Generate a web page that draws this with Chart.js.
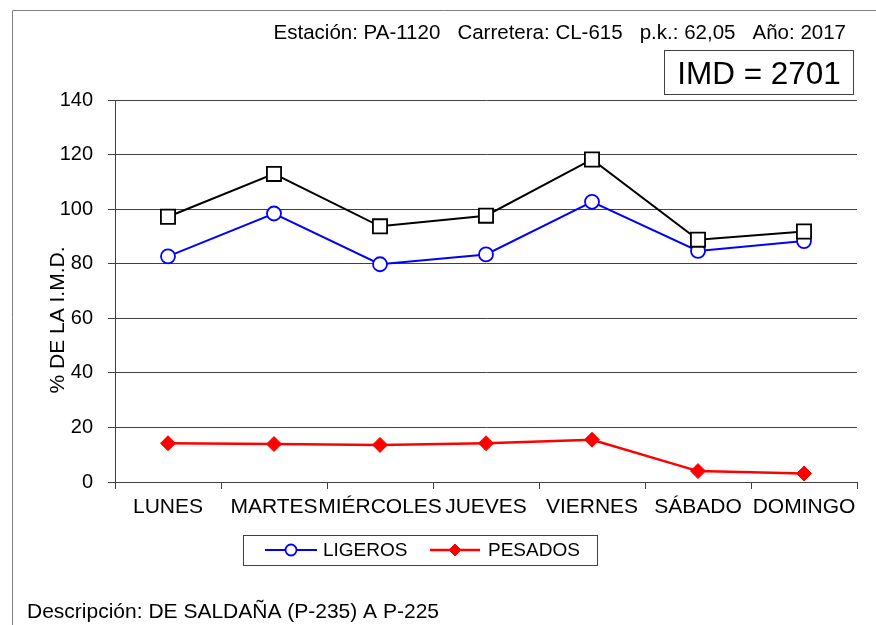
<!DOCTYPE html>
<html lang="es">
<head>
<meta charset="utf-8">
<title>Estación PA-1120 - Distribución semanal</title>
<script src="https://cdn.jsdelivr.net/npm/chart.js@4/dist/chart.umd.min.js"></script>
<style>
  html, body { margin: 0; padding: 0; background: #fff; }
  #wrap { width: 876px; height: 625px; }
</style>
</head>
<body>
<div id="wrap"><canvas id="grafico" width="876" height="625"></canvas></div>
<script>
// Días de la semana (categorías del eje X)
const dias = ['LUNES', 'MARTES', 'MIÉRCOLES', 'JUEVES', 'VIERNES', 'SÁBADO', 'DOMINGO'];
// % de la IMD por día
const totales = [97.2, 112.9, 93.7, 97.6, 118.2, 88.8, 91.8];
const ligeros = [82.7, 98.4, 79.8, 83.4, 102.7, 84.7, 88.3];
const pesados = [14.2, 13.9, 13.6, 14.2, 15.5, 4.0, 3.1];
// Marcas del eje Y
const marcasY = [0, 20, 40, 60, 80, 100, 120, 140];

// Textos de cabecera y pie
const cabecera = 'Estación: PA-1120   Carretera: CL-615   p.k.: 62,05   Año: 2017';
const imd = 'IMD = 2701';
const descripcion = 'Descripción: DE SALDAÑA (P-235) A P-225';
const tituloY = '% DE LA I.M.D.';

const FUENTE = '"Liberation Sans", Arial, Helvetica, sans-serif';

// Rótulos, recuadros y leyenda dibujados sobre el lienzo
const decoracion = {
  id: 'decoracion',
  afterDraw(chart) {
    const ctx = chart.ctx;
    ctx.save();

    // Marco exterior (lados superior e izquierdo)
    ctx.strokeStyle = '#808080';
    ctx.lineWidth = 1;
    ctx.beginPath();
    ctx.moveTo(12.5, 625);
    ctx.lineTo(12.5, 10.5);
    ctx.lineTo(876, 10.5);
    ctx.stroke();

    // Cabecera
    ctx.fillStyle = '#000';
    ctx.font = '20.5px ' + FUENTE;
    ctx.textAlign = 'right';
    ctx.textBaseline = 'alphabetic';
    ctx.fillText(cabecera, 846, 39);

    // Recuadro IMD
    ctx.strokeStyle = '#404040';
    ctx.strokeRect(664.5, 50.5, 189, 44);
    ctx.font = '31.5px ' + FUENTE;
    ctx.textAlign = 'center';
    ctx.fillText(imd, 759, 84);

    // Título del eje Y
    ctx.save();
    ctx.translate(64, 320);
    ctx.rotate(-Math.PI / 2);
    ctx.font = '21px ' + FUENTE;
    ctx.textAlign = 'center';
    ctx.textBaseline = 'alphabetic';
    ctx.fillText(tituloY, 0, 0);
    ctx.restore();

    // Leyenda
    ctx.strokeStyle = '#404040';
    ctx.lineWidth = 1;
    ctx.strokeRect(243.5, 535.5, 354, 30);
    const items = [
      { ds: chart.data.datasets[1], x0: 265, x1: 317, tx: 323 },
      { ds: chart.data.datasets[2], x0: 430, x1: 480, tx: 488 }
    ];
    const yl = 550;
    items.forEach(it => {
      ctx.strokeStyle = it.ds.borderColor;
      ctx.lineWidth = it.ds.borderWidth;
      ctx.beginPath();
      ctx.moveTo(it.x0, yl);
      ctx.lineTo(it.x1, yl);
      ctx.stroke();
      ctx.fillStyle = it.ds.pointBackgroundColor;
      ctx.strokeStyle = it.ds.pointBorderColor;
      ctx.lineWidth = it.ds.pointBorderWidth;
      Chart.helpers.drawPoint(ctx, {
        pointStyle: it.ds.pointStyle,
        radius: it.ds.pointStyle === 'circle' ? 5.5 : 6,
        borderWidth: it.ds.pointBorderWidth,
        rotation: 0
      }, (it.x0 + it.x1) / 2, yl);
      ctx.fillStyle = '#000';
      ctx.font = '19px ' + FUENTE;
      ctx.textAlign = 'left';
      ctx.textBaseline = 'middle';
      ctx.fillText(it.ds.label, it.tx, yl + 1);
    });

    // Descripción
    ctx.fillStyle = '#000';
    ctx.font = '21px ' + FUENTE;
    ctx.textAlign = 'left';
    ctx.textBaseline = 'alphabetic';
    ctx.fillText(descripcion, 27, 618);

    ctx.restore();
  }
};

new Chart(document.getElementById('grafico'), {
  type: 'line',
  data: {
    labels: dias,
    datasets: [
      {
        label: 'TOTAL',
        data: totales,
        borderColor: '#000000',
        borderWidth: 2,
        pointStyle: 'rect',
        pointRadius: 10,
        pointBackgroundColor: '#ffffff',
        pointBorderColor: '#000000',
        pointBorderWidth: 1.8,
        tension: 0,
        order: 0
      },
      {
        label: 'LIGEROS',
        data: ligeros,
        borderColor: '#0000FF',
        borderWidth: 2,
        pointStyle: 'circle',
        pointRadius: 7,
        pointBackgroundColor: '#ffffff',
        pointBorderColor: '#0000FF',
        pointBorderWidth: 1.8,
        tension: 0,
        order: 1
      },
      {
        label: 'PESADOS',
        data: pesados,
        borderColor: '#FF0000',
        borderWidth: 2.5,
        pointStyle: 'rectRot',
        pointRadius: 7.5,
        pointBackgroundColor: '#FF0000',
        pointBorderColor: '#FF0000',
        pointBorderWidth: 1,
        tension: 0,
        order: 2
      }
    ]
  },
  options: {
    responsive: false,
    animation: false,
    devicePixelRatio: 1,
    layout: { padding: { top: 100, right: 19, bottom: 103, left: 0 } },
    plugins: {
      legend: { display: false },
      title: { display: false },
      tooltip: { enabled: false }
    },
    scales: {
      x: {
        offset: true,
        grid: {
          offset: true,
          drawOnChartArea: false,
          drawTicks: true,
          tickLength: 7,
          color: '#404040'
        },
        border: { display: true, color: '#404040', width: 1 },
        ticks: {
          autoSkip: false,
          maxRotation: 0,
          minRotation: 0,
          padding: 6,
          color: '#000',
          font: { family: FUENTE, size: 21 }
        },
        afterFit(scale) { scale.height = 40; }
      },
      y: {
        min: 0,
        max: 140,
        afterBuildTicks(scale) { scale.ticks = marcasY.map(v => ({ value: v })); },
        grid: {
          color: '#404040',
          drawTicks: true,
          tickLength: 7
        },
        border: { display: true, color: '#404040', width: 1 },
        ticks: {
          padding: 15,
          color: '#000',
          font: { family: FUENTE, size: 20 }
        },
        afterFit(scale) { scale.width = 115; }
      }
    }
  },
  plugins: [decoracion]
});
</script>
</body>
</html>
